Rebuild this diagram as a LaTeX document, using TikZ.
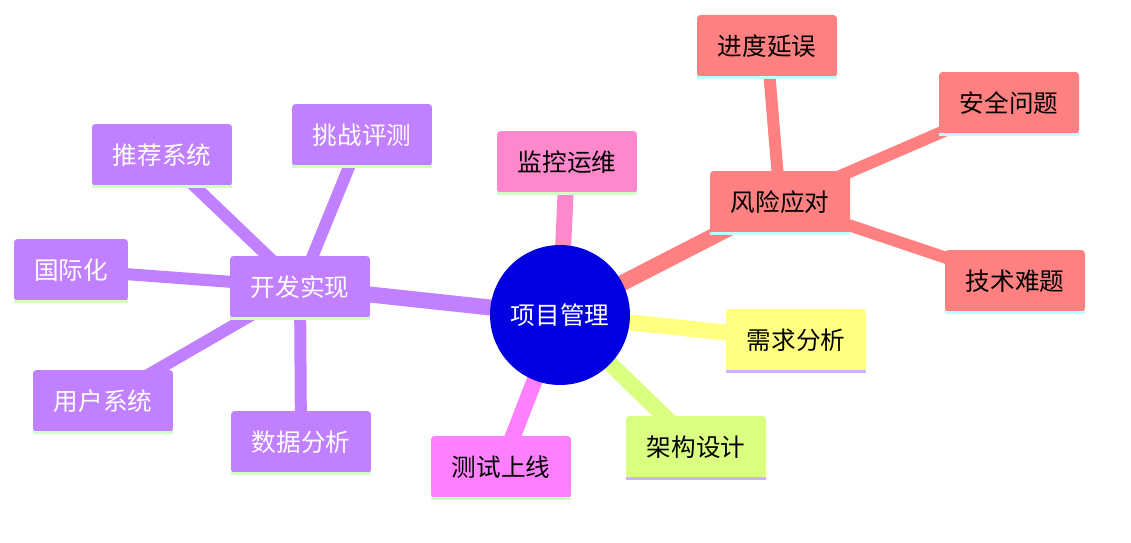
\documentclass[tikz,border=0pt]{standalone}
\usepackage{fontspec}
\newfontfamily\cjk{Noto Sans CJK SC}
\usetikzlibrary{backgrounds}
\definecolor{RootBlue}{RGB}{0, 0, 224}
\definecolor{RiskRed}{RGB}{255, 128, 128}
\definecolor{ReqYellow}{RGB}{255, 255, 128}
\definecolor{ArchGreen}{RGB}{218, 255, 128}
\definecolor{TestPink}{RGB}{255, 128, 255}
\definecolor{OpsPink}{RGB}{255, 136, 204}
\definecolor{DevPurple}{RGB}{192, 128, 255}
\definecolor{LineCyan}{RGB}{190, 255, 255}
\definecolor{LineLilac}{RGB}{200, 180, 255}
\definecolor{LineMint}{RGB}{210, 255, 200}
\begin{document}
\begin{tikzpicture}[x=0.02cm, y=-0.02cm,
        font=\cjk\fontsize{14}{16}\selectfont,
        leaf/.style 2 args={rectangle, rounded corners=2pt, fill=#1, minimum width=2.8cm, minimum height=1.24cm, inner sep=0pt,
            append after command={(\tikzlastnode.south west) edge[draw=#2, line width=2pt] (\tikzlastnode.south east)}},
        branch/.style={line width=0.32cm},
        twig/.style={line width=0.24cm}
    ]
        \useasboundingbox (0,0) rectangle (1131,543);

        \node[circle, fill=RootBlue, minimum size=2.8cm, text=white] (root) at (560,315) {项目管理};

        \node[leaf={RiskRed}{LineCyan}] (risk) at (780,202) {风险应对};
        \node[leaf={RiskRed}{LineCyan}] (delay) at (767,46) {进度延误};
        \node[leaf={RiskRed}{LineCyan}] (safe) at (1009,103) {安全问题};
        \node[leaf={RiskRed}{LineCyan}] (tech) at (1015,281) {技术难题};
        \node[leaf={ReqYellow}{LineLilac}] (req) at (796,340) {需求分析};
        \node[leaf={ArchGreen}{LineLilac}] (arch) at (696,447) {架构设计};
        \node[leaf={TestPink}{LineMint}] (test) at (501,467) {测试上线};
        \node[leaf={OpsPink}{LineMint}] (ops) at (567,162) {监控运维};
        \node[leaf={DevPurple}{LineMint}, text=white] (dev) at (300,287) {开发实现};
        \node[leaf={DevPurple}{LineMint}, text=white] (eval) at (362,135) {挑战评测};
        \node[leaf={DevPurple}{LineMint}, text=white] (rec) at (162,155) {推荐系统};
        \node[leaf={DevPurple}{LineMint}, text=white, minimum width=2.28cm] (intl) at (71,270) {国际化};
        \node[leaf={DevPurple}{LineMint}, text=white] (user) at (103,401) {用户系统};
        \node[leaf={DevPurple}{LineMint}, text=white] (data) at (301,442) {数据分析};

        \begin{scope}[on background layer]
            \draw[branch, RiskRed] (root.center) -- (risk.center);
            \draw[branch, ReqYellow] (root.center) -- (req.center);
            \draw[branch, ArchGreen] (root.center) -- (arch.center);
            \draw[branch, TestPink] (root.center) -- (test.center);
            \draw[branch, OpsPink] (root.center) -- (ops.center);
            \draw[branch, DevPurple] (root.center) -- (dev.center);
            \foreach \t in {delay, safe, tech}
                \draw[twig, RiskRed] (risk.center) -- (\t.center);
            \foreach \t in {eval, rec, intl, user, data}
                \draw[twig, DevPurple] (dev.center) -- (\t.center);
        \end{scope}
    \end{tikzpicture}
\end{document}
